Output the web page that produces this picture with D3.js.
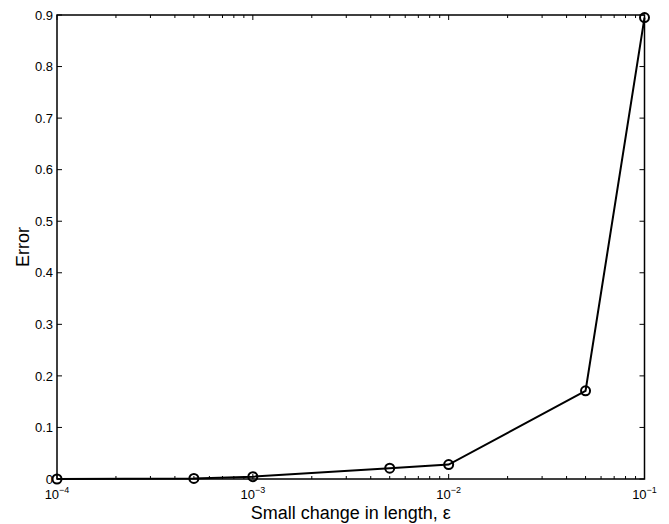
<!DOCTYPE html>
<meta charset="utf-8">
<style>
  body { margin: 0; background: white; }
  text { font-family: "Liberation Sans", Arial, sans-serif; fill: black; }
  .tick text { font-size: 13px; }
  .label { font-size: 18px; text-anchor: middle; }
</style>
<body>
<script src="https://cdn.jsdelivr.net/npm/d3@7"></script>
<script>

// data
const epsilon = [1e-4, 5e-4, 1e-3, 5e-3, 1e-2, 5e-2, 1e-1]
const error = [0, 0.001, 0.0045, 0.021, 0.028, 0.171, 0.895]
const yTicks = [0, 0.1, 0.2, 0.3, 0.4, 0.5, 0.6, 0.7, 0.8, 0.9]
const xMajor = [1e-4, 1e-3, 1e-2, 1e-1]
const xMinor = d3.range(-4, -1).flatMap(e => d3.range(2, 10).map(k => k * Math.pow(10, e)))

const W = 669, H = 524
const margin = {top: 15, right: 24.5, bottom: 45, left: 57}
const width = W - margin.left - margin.right,
      height = H - margin.top - margin.bottom

const svg = d3.select("body").append("svg")
    .attr("width", W)
    .attr("height", H)
  .append("g")
    .attr("transform", `translate(${margin.left}, ${margin.top})`)

const x = d3.scaleLog().domain([1e-4, 1e-1]).range([0, width])
const y = d3.scaleLinear().domain([0, 0.9]).range([height, 0])

const tk = 5

// frame
svg.append("rect")
  .attr("width", width)
  .attr("height", height)
  .attr("fill", "none")
  .attr("stroke", "black")
  .attr("stroke-width", 1.5)

// minor x ticks top and bottom
const minor = svg.append("g").attr("stroke", "black").attr("stroke-width", 1)
xMinor.forEach(v => {
  minor.append("line").attr("x1", x(v)).attr("x2", x(v)).attr("y1", height).attr("y2", height - 3)
  minor.append("line").attr("x1", x(v)).attr("x2", x(v)).attr("y1", 0).attr("y2", 3)
})
xMajor.forEach(v => {
  minor.append("line").attr("x1", x(v)).attr("x2", x(v)).attr("y1", height).attr("y2", height - tk)
  minor.append("line").attr("x1", x(v)).attr("x2", x(v)).attr("y1", 0).attr("y2", tk)
})
yTicks.forEach(v => {
  minor.append("line").attr("x1", 0).attr("x2", tk).attr("y1", y(v)).attr("y2", y(v))
  minor.append("line").attr("x1", width).attr("x2", width - tk).attr("y1", y(v)).attr("y2", y(v))
})

// y labels
svg.append("g")
  .attr("class", "axis")
  .call(d3.axisLeft(y).tickValues(yTicks).tickSize(0).tickPadding(4)
    .tickFormat(d => d === 0 ? "0" : d3.format(".1f")(d)))
  .call(g => g.select(".domain").remove())

// x labels with superscripts
const xl = svg.append("g").attr("class", "tick")
xMajor.forEach(v => {
  const t = xl.append("text")
    .attr("x", x(v))
    .attr("y", height + 20)
    .attr("text-anchor", "middle")
  t.append("tspan").text("10")
  t.append("tspan")
    .attr("dy", -6)
    .attr("font-size", "9px")
    .text("\u2212" + Math.round(-Math.log10(v)))
})

// line
svg.append("path")
  .datum(epsilon.map((d, i) => [d, error[i]]))
  .attr("fill", "none")
  .attr("stroke", "black")
  .attr("stroke-width", 2)
  .attr("d", d3.line().x(d => x(d[0])).y(d => y(d[1])))

svg.selectAll(".pt")
  .data(epsilon.map((d, i) => [d, error[i]]))
  .enter().append("circle")
    .attr("class", "pt")
    .attr("cx", d => x(d[0]))
    .attr("cy", d => y(d[1]))
    .attr("r", 4.5)
    .attr("fill", "none")
    .attr("stroke", "black")
    .attr("stroke-width", 2)

// axis titles
svg.append("text")
  .attr("class", "label")
  .attr("x", width / 2)
  .attr("y", height + 40)
  .text("Small change in length, \u03b5")

svg.append("text")
  .attr("class", "label")
  .attr("transform", `translate(-28, ${height / 2}) rotate(-90)`)
  .text("Error")

</script>
</body>
</html>
